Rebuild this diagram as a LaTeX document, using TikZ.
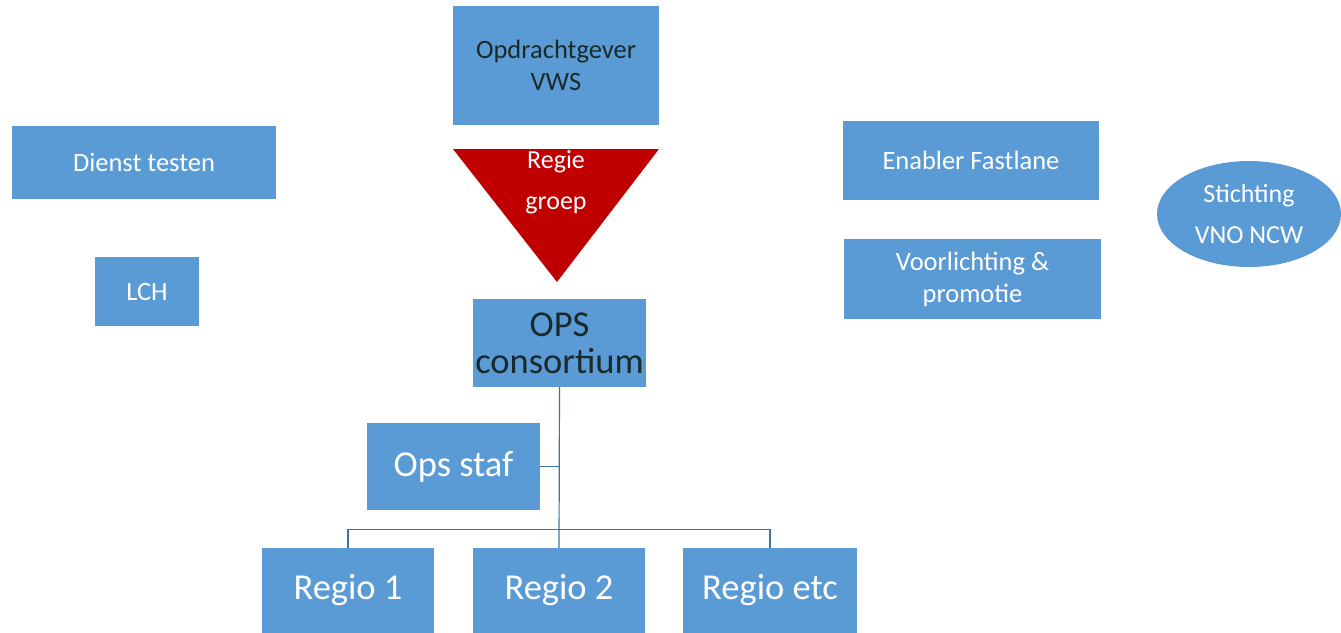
\documentclass[tikz,border=0pt]{standalone}
\usepackage{fontspec}
\setmainfont{Carlito}
\usetikzlibrary{shapes.geometric}
\definecolor{boxblue}{HTML}{5B9BD5}
\definecolor{regiered}{HTML}{C00000}
\definecolor{linkblue}{HTML}{41719C}
\definecolor{darktext}{HTML}{1A2A2A}

\tikzset{
  blok/.style={fill=boxblue, inner sep=0pt, align=center, text=white},
  kleintekst/.style={font=\fontsize{26.5}{32}\selectfont},
  grotetekst/.style={font=\fontsize{36.5}{37}\selectfont},
  lijn/.style={draw=linkblue, line width=1.2pt}
}

\begin{document}
\begin{tikzpicture}[x=1pt,y=-1pt]
\useasboundingbox (0,0) rectangle (1341,632);
% top of the chart
\node[blok, kleintekst, text=darktext, minimum width=206pt, minimum height=119pt] (vws) at (556,65.5) {Opdrachtgever\\VWS};
\coordinate (tri-l) at (453,149);
\coordinate (tri-r) at (659,149);
\coordinate (tri-p) at (557,282);
\fill[regiered] (tri-l) -- (tri-r) -- (tri-p) -- cycle;
\node[align=center, text=white, font=\fontsize{26}{41}\selectfont] (regie) at (556,182) {Regie\\groep};
\node[blok, grotetekst, text=darktext, minimum width=173pt, minimum height=88pt] (ops) at (559.5,343) {OPS\\consortium};
% staff and regions
\node[blok, grotetekst, minimum width=173pt, minimum height=87pt] (staf) at (453.5,466.5) {Ops staf};
\node[blok, grotetekst, minimum width=172pt, minimum height=85pt] (regio1) at (348,590.5) {Regio 1};
\node[blok, grotetekst, minimum width=172pt, minimum height=85pt] (regio2) at (559,590.5) {Regio 2};
\node[blok, grotetekst, minimum width=174pt, minimum height=85pt] (regioetc) at (770,590.5) {Regio etc};
\draw[lijn] (ops.south) -- (regio2.north);
\draw[lijn] (staf.east) -- (staf.east -| ops.south);
\draw[lijn] (regio1.north) -- ++(0,-18) -| (regioetc.north);
% left side
\node[blok, kleintekst, minimum width=264pt, minimum height=73pt] (dienst) at (144,162.5) {Dienst testen};
\node[blok, kleintekst, minimum width=104pt, minimum height=69pt] (lch) at (147,291.5) {LCH};
% right side
\node[blok, kleintekst, minimum width=256pt, minimum height=79pt] (fastlane) at (971,160.5) {Enabler Fastlane};
\node[blok, kleintekst, minimum width=257pt, minimum height=80pt] (voorlichting) at (972.5,279) {Voorlichting \&\\promotie};
\node[blok, ellipse, font=\fontsize{26}{41}\selectfont, minimum width=184pt, minimum height=106pt] (vno) at (1249,214) {Stichting\\VNO NCW};
\end{tikzpicture}
\end{document}
